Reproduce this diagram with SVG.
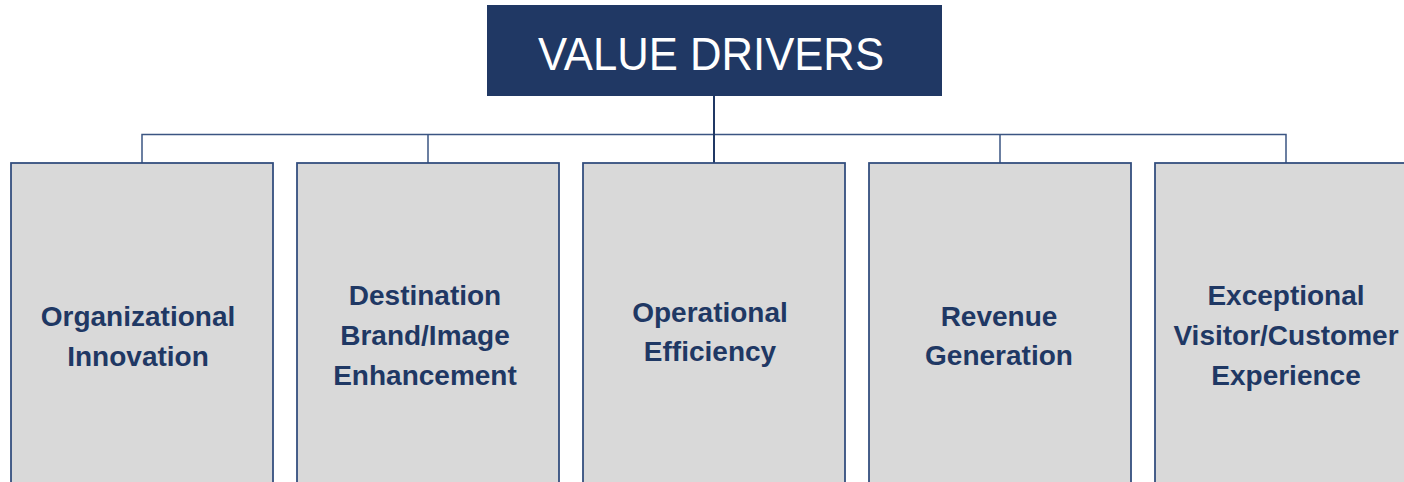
<svg xmlns="http://www.w3.org/2000/svg" width="1404" height="482" viewBox="0 0 1404 482">
<style>
.box{fill:#d9d9d9;stroke:#2f4b7c;stroke-width:1.75}
.lbl{font-family:"Liberation Sans",Arial,sans-serif;font-weight:bold;font-size:28px;fill:#1f3864;text-anchor:middle}
.conn{fill:none;stroke:#3b5582;stroke-width:1.5}
.title{font-family:"Liberation Sans",Arial,sans-serif;font-size:46px;fill:#ffffff;text-anchor:middle}
</style>
<rect width="1404" height="482" fill="#ffffff"/>
<g id="connectors">
<path class="conn" d="M142 163V134.5H1286V163"/>
<path class="conn" d="M428 134.5V163M1000 134.5V163"/>
<path class="conn" style="stroke:#203864;stroke-width:2" d="M714 96V163"/>
</g>
<g id="header">
<rect x="487" y="5" width="455" height="91" fill="#203864"/>
<text class="title" x="711" y="70" textLength="346" lengthAdjust="spacingAndGlyphs">VALUE DRIVERS</text>
</g>
<g id="node-organizational-innovation">
<rect class="box" x="11" y="163" width="262" height="330"/>
<text class="lbl" x="138" y="326">Organizational</text>
<text class="lbl" x="138" y="366">Innovation</text>
</g>
<g id="node-destination-brand">
<rect class="box" x="297" y="163" width="262" height="330"/>
<text class="lbl" x="425" y="305">Destination</text>
<text class="lbl" x="425" y="345">Brand/Image</text>
<text class="lbl" x="425" y="385">Enhancement</text>
</g>
<g id="node-operational-efficiency">
<rect class="box" x="583" y="163" width="262" height="330"/>
<text class="lbl" x="710" y="322">Operational</text>
<text class="lbl" x="710" y="361">Efficiency</text>
</g>
<g id="node-revenue-generation">
<rect class="box" x="869" y="163" width="262" height="330"/>
<text class="lbl" x="999" y="326">Revenue</text>
<text class="lbl" x="999" y="365">Generation</text>
</g>
<g id="node-visitor-experience">
<rect class="box" x="1155" y="163" width="262" height="330"/>
<text class="lbl" x="1286" y="305">Exceptional</text>
<text class="lbl" x="1286" y="345">Visitor/Customer</text>
<text class="lbl" x="1286" y="385">Experience</text>
</g>
</svg>
